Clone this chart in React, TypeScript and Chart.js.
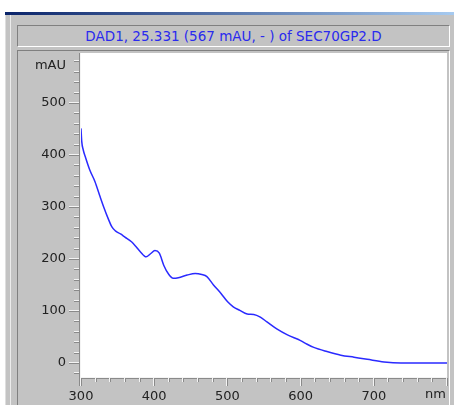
import React, { useEffect, useRef } from "react";
import { Chart, registerables } from "chart.js";

Chart.register(...registerables);

const titleText = "DAD1, 25.331 (567 mAU, - ) of SEC70GP2.D";
const yUnit = "mAU";
const xUnit = "nm";

const wavelengthsNm = [
  300, 301, 303, 306, 312, 319, 326, 331, 337, 342, 347, 354, 360, 369, 375, 381,
  389, 395, 401, 407, 413, 420, 426, 433, 445, 456, 465, 472, 481, 491, 500,
  508, 517, 527, 536, 545, 554, 568, 582, 600, 609, 618, 636, 655, 673, 691,
  714, 737, 760, 800,
];
const absorbanceMAU = [
  451, 426, 410, 396, 371, 349, 320, 300, 278, 262, 254, 248, 242, 233, 224, 214,
  204, 210, 216, 211, 188, 170, 163, 164, 169, 172, 170, 166, 150, 134, 118,
  108, 101, 94, 93, 88, 79, 65, 54, 43, 36, 30, 22, 15, 11, 7,
  2, 0, 0, 0,
];

const yLabelValues = [0, 100, 200, 300, 400, 500];
const xLabelValues = [300, 400, 500, 600, 700];

const FONT = "DejaVu Sans";

const decorPlugin = {
  id: "decor",
  beforeDraw(chart: any) {
    const { ctx, chartArea: a } = chart;
    ctx.save();
    ctx.fillStyle = "#ffffff";
    ctx.fillRect(a.left, a.top, a.right - a.left, a.bottom - a.top);
    ctx.restore();
  },
  afterDraw(chart: any) {
    const { ctx, chartArea: a, scales } = chart;
    const ys = scales.y;
    const xs = scales.x;
    ctx.save();
    const L = Math.round(a.left);
    const B = Math.round(a.bottom);
    // y axis line
    ctx.fillStyle = "#8a8a8a";
    ctx.fillRect(L - 2, Math.round(a.top), 1, B - a.top + 9);
    ctx.fillStyle = "#f4f4f4";
    ctx.fillRect(L - 1, Math.round(a.top), 1, B - a.top + 9);
    // x axis line
    ctx.fillStyle = "#f4f4f4";
    ctx.fillRect(L - 1, B, Math.round(a.right) - L + 1, 1);
    ctx.fillStyle = "#8a8a8a";
    ctx.fillRect(L - 1, B + 1, Math.round(a.right) - L + 1, 1);
    // y ticks
    for (let v = -20; v <= 580; v += 20) {
      const y = Math.round(ys.getPixelForValue(v));
      const major = v % 100 === 0;
      const x0 = major ? L - 12 : L - 7;
      ctx.fillStyle = "#f4f4f4";
      ctx.fillRect(x0, y - 1, L - 2 - x0, 1);
      ctx.fillStyle = "#8a8a8a";
      ctx.fillRect(x0, y, L - 2 - x0, 1);
    }
    // x ticks
    for (let v = 300; v <= 800; v += 20) {
      const x = Math.round(xs.getPixelForValue(v));
      const major = v % 100 === 0;
      const len = major ? 8 : 4;
      ctx.fillStyle = "#f4f4f4";
      ctx.fillRect(x - 1, B + 1, 1, len);
      ctx.fillStyle = "#8a8a8a";
      ctx.fillRect(x, B + 1, 1, len);
    }
    // unit labels
    ctx.font = `13px '${FONT}'`;
    ctx.fillStyle = "#222222";
    ctx.textAlign = "right";
    ctx.textBaseline = "middle";
    ctx.fillText(yUnit, L - 15, ys.getPixelForValue(572));
    ctx.fillText(xUnit, Math.round(a.right) - 1, B + 18);
    ctx.restore();
  },
};

export default function App() {
  const ref = useRef<HTMLCanvasElement | null>(null);

  useEffect(() => {
    const canvas = ref.current;
    if (!canvas) return;
    const chart = new Chart(canvas, {
      type: "line",
      data: {
        datasets: [
          {
            data: wavelengthsNm.map((x, i) => ({ x, y: absorbanceMAU[i] })),
            borderColor: "#2a2aff",
            borderWidth: 1.5,
            pointRadius: 0,
            cubicInterpolationMode: "monotone",
            fill: false,
          },
        ],
      },
      options: {
        responsive: false,
        animation: false,
        devicePixelRatio: 1,
        layout: { padding: { left: 0, top: 2, right: 2, bottom: 0 } },
        plugins: {
          legend: { display: false },
          tooltip: { enabled: false },
          title: { display: false },
        },
        scales: {
          x: {
            type: "linear",
            min: 300,
            max: 800,
            grid: { display: false, drawTicks: false },
            border: { display: false },
            ticks: {
              stepSize: 20,
              autoSkip: false,
              maxRotation: 0,
              minRotation: 0,
              includeBounds: false,
              padding: 12,
              color: "#222222",
              font: { family: FONT, size: 13 },
              callback: (v: any) => (xLabelValues.includes(Number(v)) ? String(v) : ""),
            },
            afterFit: (s: any) => {
              s.height = 28;
              s.paddingLeft = 0;
              s.paddingRight = 0;
            },
          },
          y: {
            type: "linear",
            min: -27,
            max: 596,
            grid: { display: false, drawTicks: false },
            border: { display: false },
            ticks: {
              stepSize: 20,
              autoSkip: false,
              includeBounds: false,
              padding: 15,
              color: "#222222",
              font: { family: FONT, size: 13 },
              callback: (v: any) => (yLabelValues.includes(Number(v)) ? String(v) : ""),
            },
            afterFit: (s: any) => {
              s.width = 63;
              s.paddingTop = 0;
              s.paddingBottom = 0;
            },
          },
        },
      },
      plugins: [decorPlugin],
    } as any);
    return () => chart.destroy();
  }, []);

  const abs = (s: React.CSSProperties): React.CSSProperties => ({
    position: "absolute",
    boxSizing: "border-box",
    ...s,
  });

  return (
    <div
      style={{
        position: "fixed",
        left: 0,
        top: 0,
        width: 454,
        height: 405,
        background: "#ffffff",
        overflow: "hidden",
      }}
    >
      <div style={abs({ left: 5, top: 15, width: 449, height: 390, background: "#c3c3c3", borderLeft: "1px solid #dedede" })} />
      <div style={abs({ left: 10, top: 15, width: 1, height: 390, background: "#ececec" })} />
      <div
        style={abs({
          left: 5,
          top: 12,
          width: 449,
          height: 3,
          background: "linear-gradient(to right, #0a246a, #a6caf0)",
        })}
      />
      <div
        style={abs({
          left: 17,
          top: 25,
          width: 433,
          height: 22,
          borderTop: "1px solid #808080",
          borderLeft: "1px solid #808080",
          borderRight: "1px solid #ffffff",
          borderBottom: "1px solid #ffffff",
          background: "#c3c3c3",
          color: "#2a2aee",
          fontFamily: FONT,
          fontSize: 13.5,
          lineHeight: "20px",
          textAlign: "center",
          whiteSpace: "nowrap",
        })}
      >
        {titleText}
      </div>
      <div
        style={abs({
          left: 17,
          top: 50,
          width: 433,
          height: 360,
          borderTop: "1px solid #808080",
          borderLeft: "1px solid #808080",
          borderRight: "1px solid #ffffff",
          background: "#c3c3c3",
        })}
      />
      <canvas
        ref={ref}
        width={431}
        height={354}
        style={{ position: "absolute", left: 18, top: 51, width: 431, height: 354 }}
      />
    </div>
  );
}
